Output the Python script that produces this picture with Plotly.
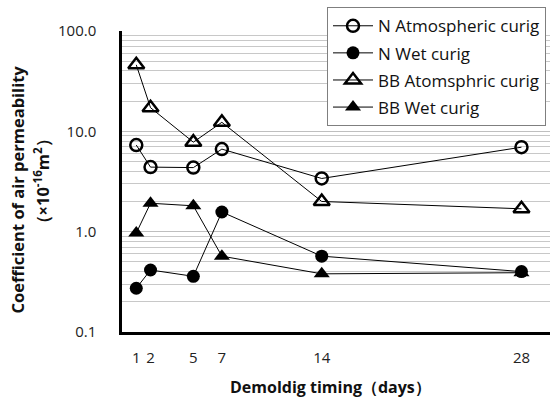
import plotly.graph_objects as go

days = [1, 2, 5, 7, 14, 28]
n_atm = [7.3, 4.4, 4.35, 6.65, 3.39, 6.95]
n_wet = [0.273, 0.415, 0.359, 1.57, 0.57, 0.40]
bb_atm = [46, 17.2, 7.8, 12.3, 2.0, 1.69]
bb_wet = [0.97, 1.92, 1.81, 0.57, 0.38, 0.39]

series = [
    ("N Atmospheric curig", n_atm, "circle-open", 12),
    ("N Wet curig", n_wet, "circle", 13),
    ("BB Atomsphric curig", bb_atm, "triangle-up-open", 14),
    ("BB Wet curig", bb_wet, "triangle-up", 14),
]

FONT = "Open Sans"
fig = go.Figure()
for i, (name, vals, sym, sz) in enumerate(series):
    fig.add_trace(go.Scatter(
        x=days, y=vals, name=name, mode="lines+markers",
        legendgroup=f"g{i}",
        line=dict(color="black", width=1),
        marker=dict(symbol=sym, size=sz, color="black",
                    line=dict(color="black", width=2.5 if "open" in sym else 0)),
    ))

fig.update_layout(
    width=557, height=399,
    margin=dict(l=122, r=7, t=28, b=67),
    paper_bgcolor="white", plot_bgcolor="white",
    font=dict(family=FONT, size=14, color="#222222"),
    showlegend=True,
    legend=dict(
        x=0.479, y=1.079, xanchor="left", yanchor="top",
        bordercolor="#7f7f7f", borderwidth=1, bgcolor="white",
        font=dict(family=FONT, size=17, color="#111111"),
        tracegroupgap=2, itemwidth=40,
    ),
    xaxis=dict(
        range=[0, 30], tickmode="array", tickvals=days,
        ticktext=[str(d) for d in days],
        showgrid=False, zeroline=False,
        showline=True, linecolor="black", linewidth=2.5,
        ticks="", ticklabelstandoff=10,
        tickfont=dict(family=FONT, size=15),
    ),
    yaxis=dict(
        type="log", range=[-1, 2],
        tickmode="array", tickvals=[0.1, 1, 10, 100],
        ticktext=["0.1", "1.0", "10.0", "100.0"],
        showgrid=True, gridcolor="#bfbfbf", gridwidth=1,
        minor=dict(showgrid=True, gridcolor="#c8c8c8", gridwidth=1, dtick="D1"),
        zeroline=False,
        showline=True, linecolor="black", linewidth=2.5,
        ticks="", ticklabelstandoff=20,
        tickfont=dict(family=FONT, size=15),
    ),
    annotations=[
        dict(text="<b>Coefficient of air permeability</b>", xref="paper", yref="paper",
             x=-0.245, y=0.474, xanchor="center", yanchor="middle", textangle=-90,
             showarrow=False, font=dict(family=FONT, size=16.5, color="#111111")),
        dict(text="<b>（×10<sup>-16</sup>m<sup>2</sup>）</b>", xref="paper", yref="paper",
             x=-0.187, y=0.5, xanchor="center", yanchor="middle", textangle=-90,
             showarrow=False, font=dict(family=FONT, size=16.5, color="#111111")),
        dict(text="<b>Demoldig timing（days）</b>", xref="paper", yref="paper",
             x=0.488, y=-0.184, xanchor="center", yanchor="middle",
             showarrow=False, font=dict(family=FONT, size=16, color="#111111")),
    ],
)

fig.write_html("out.html")
